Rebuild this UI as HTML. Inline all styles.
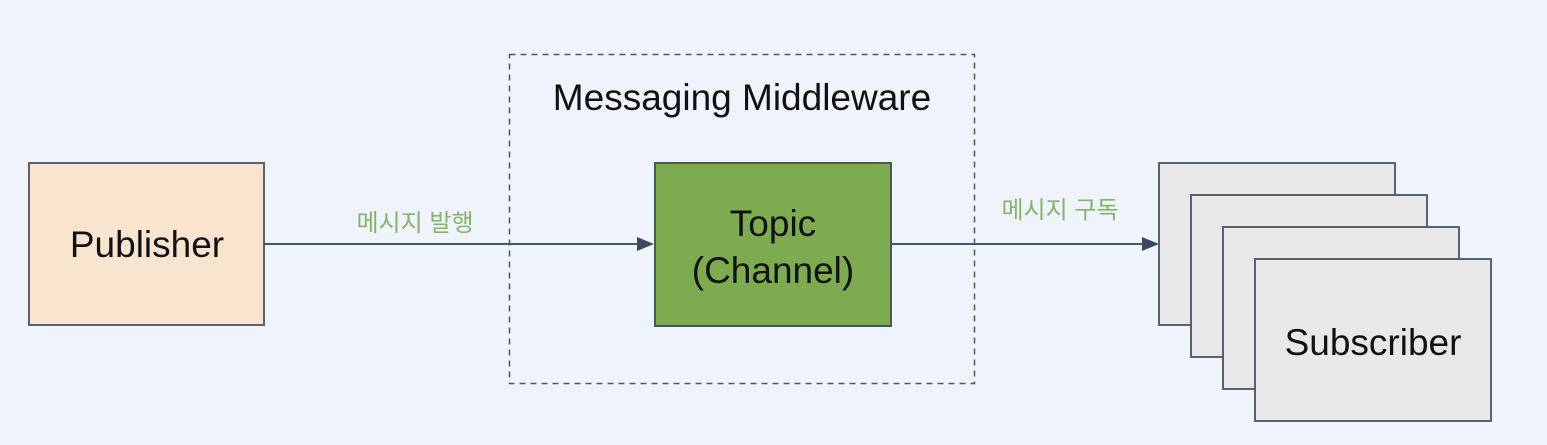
<!DOCTYPE html>
<html><head><meta charset="utf-8"><style>
body{margin:0;background:#eff4fc;}
svg{display:block}
text{font-family:"Liberation Sans","Noto Sans CJK KR",sans-serif;}
</style></head><body>
<svg width="1547" height="445" viewBox="0 0 1547 445">
<rect width="1547" height="445" fill="#eff4fc"/>
<rect x="509.5" y="54.5" width="465" height="329" fill="none" stroke="#555" stroke-width="1.5" stroke-dasharray="6,5"/>
<text x="742" y="110" font-size="37" text-anchor="middle" fill="#111">Messaging Middleware</text>
<rect x="29" y="163" width="235" height="162" fill="#f9e5cf" stroke="#5a6070" stroke-width="2"/>
<text x="147" y="257" font-size="37" text-anchor="middle" fill="#111">Publisher</text>
<rect x="655" y="163" width="236" height="163" fill="#7dab4f" stroke="#4a5a50" stroke-width="2"/>
<text x="773" y="236" font-size="37" text-anchor="middle" fill="#111">Topic</text>
<text x="773" y="283" font-size="37" text-anchor="middle" fill="#111">(Channel)</text>
<line x1="264" y1="244" x2="640" y2="244" stroke="#4a5468" stroke-width="2"/>
<polygon points="654,244 637,237 637,251" fill="#3c4a60"/>
<text x="415" y="231" font-size="24" text-anchor="middle" fill="#86b36a">메시지 발행</text>
<line x1="891" y1="244" x2="1145" y2="244" stroke="#4a5468" stroke-width="2"/>
<polygon points="1159,244 1142,237 1142,251" fill="#3c4a60"/>
<text x="1060" y="218" font-size="24" text-anchor="middle" fill="#86b36a">메시지 구독</text>
<g fill="#e8e8e8" stroke="#5a6070" stroke-width="2">
<rect x="1159" y="163" width="236" height="162"/>
<rect x="1191" y="195" width="236" height="162"/>
<rect x="1223" y="227" width="236" height="162"/>
<rect x="1255" y="259" width="236" height="162"/>
</g>
<text x="1373" y="355" font-size="37" text-anchor="middle" fill="#111">Subscriber</text>
</svg>
</body></html>
